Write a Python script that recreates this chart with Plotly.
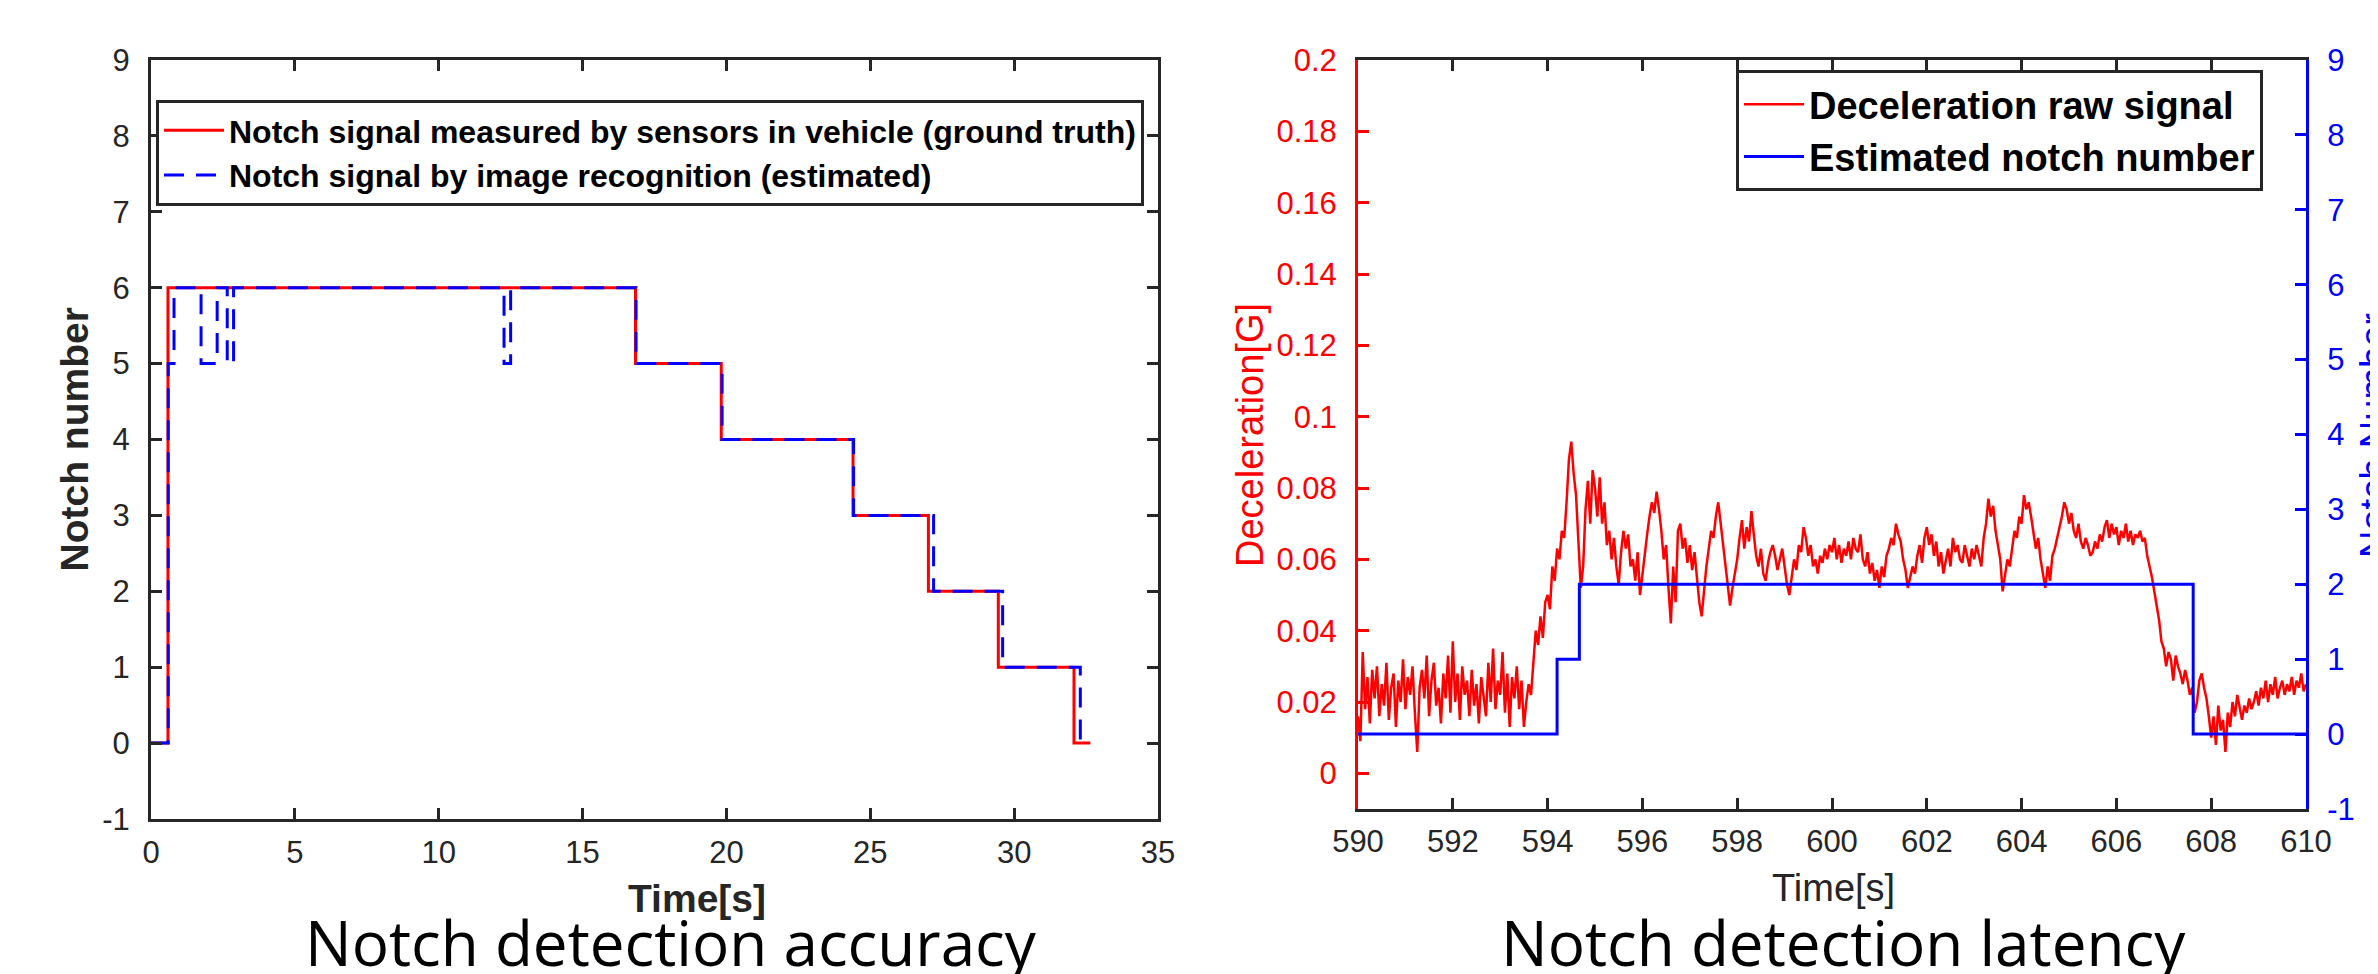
import plotly.graph_objects as go

W, H = 2378, 974

# ---------------- Left panel data: notch detection accuracy ----------------
gt_time = [0, 0.59, 16.84, 19.82, 24.40, 27.02, 29.45, 32.08, 32.65]
gt_notch = [0, 6, 5, 4, 3, 2, 1, 0, 0]
est_time = [0, 0.60, 0.80, 1.74, 2.30, 2.65, 2.87, 12.27, 12.50, 16.86, 19.85, 24.42, 27.20, 29.60, 32.30]
est_notch = [0, 5, 6, 5, 6, 5, 6, 5, 6, 5, 4, 3, 2, 1, 0]

left_x_ticks = [0, 5, 10, 15, 20, 25, 30, 35]
left_y_ticks = [-1, 0, 1, 2, 3, 4, 5, 6, 7, 8, 9]
left_y_text = ["-1", "0", "1", "2", "3", "4", "5", "6", "7", "8", "9"]

# ---------------- Right panel data: notch detection latency ----------------
dec_t0 = 590.0
dec_dt = 0.05
dec_values = [
    # 590
    0.016, 0.009, 0.034, 0.018, 0.027, 0.014, 0.029, 0.021, 0.030, 0.016,
    0.025, 0.019, 0.031, 0.015, 0.024, 0.028, 0.013, 0.026, 0.020, 0.032,
    # 591
    0.018, 0.027, 0.022, 0.030, 0.017, 0.006, 0.024, 0.029, 0.021, 0.033,
    0.016, 0.026, 0.031, 0.019, 0.024, 0.014, 0.028, 0.021, 0.033, 0.017,
    # 592
    0.037, 0.020, 0.028, 0.015, 0.030, 0.022, 0.026, 0.016, 0.029, 0.019,
    0.025, 0.014, 0.027, 0.021, 0.016, 0.031, 0.020, 0.035, 0.018, 0.026,
    # 593
    0.022, 0.034, 0.017, 0.028, 0.013, 0.027, 0.021, 0.030, 0.018, 0.026,
    0.013, 0.020, 0.025, 0.022, 0.030, 0.040, 0.036, 0.044, 0.038, 0.048,
    # 594
    0.050, 0.046, 0.058, 0.054, 0.063, 0.060, 0.068, 0.066, 0.076, 0.088,
    0.093, 0.084, 0.078, 0.066, 0.052, 0.058, 0.074, 0.082, 0.070, 0.085,
    # 595
    0.080, 0.072, 0.083, 0.070, 0.076, 0.064, 0.068, 0.060, 0.066, 0.058,
    0.053, 0.062, 0.068, 0.063, 0.067, 0.058, 0.060, 0.054, 0.062, 0.050,
    # 596
    0.056, 0.062, 0.067, 0.072, 0.076, 0.073, 0.079, 0.074, 0.068, 0.060,
    0.064, 0.052, 0.042, 0.058, 0.048, 0.068, 0.070, 0.063, 0.066, 0.059,
    # 597
    0.064, 0.057, 0.062, 0.055, 0.048, 0.044, 0.052, 0.058, 0.063, 0.068,
    0.066, 0.072, 0.076, 0.070, 0.064, 0.059, 0.053, 0.047, 0.052, 0.056,
    # 598
    0.060, 0.066, 0.071, 0.063, 0.069, 0.065, 0.0735, 0.067, 0.061, 0.058,
    0.063, 0.056, 0.054, 0.059, 0.062, 0.064, 0.061, 0.057, 0.060, 0.063,
    # 599
    0.058, 0.053, 0.050, 0.055, 0.060, 0.057, 0.064, 0.062, 0.069, 0.066,
    0.061, 0.064, 0.058, 0.060, 0.056, 0.061, 0.059, 0.063, 0.060, 0.064,
    # 600
    0.062, 0.066, 0.060, 0.064, 0.059, 0.063, 0.061, 0.065, 0.060, 0.066,
    0.063, 0.062, 0.067, 0.060, 0.058, 0.062, 0.056, 0.059, 0.054, 0.057,
    # 601
    0.052, 0.058, 0.055, 0.061, 0.063, 0.066, 0.064, 0.070, 0.067, 0.065,
    0.060, 0.057, 0.052, 0.055, 0.058, 0.056, 0.061, 0.064, 0.059, 0.066,
    # 602
    0.069, 0.064, 0.067, 0.061, 0.065, 0.058, 0.062, 0.056, 0.060, 0.063,
    0.058, 0.066, 0.062, 0.064, 0.060, 0.059, 0.064, 0.061, 0.058, 0.063,
    # 603
    0.060, 0.064, 0.061, 0.058, 0.066, 0.070, 0.077, 0.072, 0.075, 0.068,
    0.064, 0.060, 0.051, 0.056, 0.060, 0.058, 0.063, 0.068, 0.066, 0.072,
    # 604
    0.070, 0.078, 0.074, 0.076, 0.072, 0.068, 0.063, 0.066, 0.060, 0.056,
    0.052, 0.058, 0.054, 0.061, 0.063, 0.066, 0.069, 0.072, 0.076, 0.074,
    # 605
    0.070, 0.073, 0.068, 0.066, 0.070, 0.065, 0.063, 0.066, 0.064, 0.061,
    0.062, 0.065, 0.063, 0.067, 0.065, 0.069, 0.071, 0.066, 0.070, 0.067,
    # 606
    0.069, 0.064, 0.068, 0.066, 0.070, 0.065, 0.068, 0.064, 0.067, 0.066,
    0.068, 0.065, 0.066, 0.061, 0.058, 0.055, 0.051, 0.047, 0.043, 0.037,
    # 607
    0.035, 0.030, 0.034, 0.032, 0.026, 0.033, 0.030, 0.028, 0.025, 0.029,
    0.026, 0.022, 0.024, 0.017, 0.020, 0.026, 0.028, 0.024, 0.021, 0.016,
    # 608
    0.010, 0.016, 0.008, 0.019, 0.012, 0.015, 0.006, 0.017, 0.013, 0.020,
    0.016, 0.022, 0.018, 0.015, 0.019, 0.017, 0.021, 0.018, 0.020, 0.023,
    # 609
    0.019, 0.024, 0.021, 0.026, 0.020, 0.025, 0.022, 0.027, 0.021, 0.024,
    0.026, 0.022, 0.025, 0.023, 0.027, 0.022, 0.026, 0.024, 0.028, 0.023,
    # 610
    0.025,
]
dec_time = [round(dec_t0 + i * dec_dt, 3) for i in range(len(dec_values))]

notch_time = [590.0, 594.20, 594.67, 607.62, 610.0]
notch_level = [0, 1, 2, 0, 0]

right_x_ticks = [590, 592, 594, 596, 598, 600, 602, 604, 606, 608, 610]
dec_ticks = [0, 0.02, 0.04, 0.06, 0.08, 0.1, 0.12, 0.14, 0.16, 0.18, 0.2]
dec_tick_text = ["0", "0.02", "0.04", "0.06", "0.08", "0.1", "0.12", "0.14", "0.16", "0.18", "0.2"]
notch_ticks = [-1, 0, 1, 2, 3, 4, 5, 6, 7, 8, 9]
notch_tick_text = ["-1", "0", "1", "2", "3", "4", "5", "6", "7", "8", "9"]

# ---------------- styling helpers ----------------
AX = "#262626"
RED = "#ff0000"
BLUE = "#0000ff"
FONT = "Liberation Sans, Arial, sans-serif"
TICK_FONT = dict(family=FONT, size=31, color=AX)


def px_x(p):
    return p / W


def px_y(p):
    return 1 - p / H


fig = go.Figure()

fig.add_trace(go.Scatter(
    x=gt_time, y=gt_notch, mode="lines", line=dict(color=RED, width=3, shape="hv"),
    name="Notch signal measured by sensors in vehicle (ground truth)",
    xaxis="x", yaxis="y", legend="legend"))
fig.add_trace(go.Scatter(
    x=est_time, y=est_notch, mode="lines", line=dict(color=BLUE, width=3, shape="hv", dash="20px,12px"),
    name="Notch signal by image recognition (estimated)",
    xaxis="x", yaxis="y", legend="legend"))

fig.add_trace(go.Scatter(
    x=dec_time, y=dec_values, mode="lines", line=dict(color=RED, width=2.5),
    name="Deceleration raw signal", xaxis="x2", yaxis="y2", legend="legend2"))
fig.add_trace(go.Scatter(
    x=notch_time, y=notch_level, mode="lines", line=dict(color=BLUE, width=3, shape="hv"),
    name="Estimated notch number", xaxis="x2", yaxis="y3", legend="legend2"))

L_X0, L_X1 = 143, 1150
L_Y0, L_Y1 = 52, 811
R_X0, R_X1 = 1350, 2298
R_Y0, R_Y1 = 52, 801

common = dict(showgrid=False, zeroline=False, showline=True, linewidth=3,
              ticks="inside", ticklen=11, tickwidth=3, automargin=False)

fig.update_layout(
    width=W, height=H,
    margin=dict(l=0, r=0, t=0, b=0, autoexpand=False),
    paper_bgcolor="white", plot_bgcolor="white",
    showlegend=True,
    xaxis=dict(domain=[px_x(L_X0), px_x(L_X1)], range=[0, 35], tickvals=left_x_ticks,
               linecolor=AX, tickcolor=AX, tickfont=TICK_FONT, mirror="ticks",
               anchor="y", ticklabelstandoff=4, **common),
    yaxis=dict(domain=[px_y(L_Y1), px_y(L_Y0)], range=[-1, 9], tickvals=left_y_ticks,
               ticktext=left_y_text,
               linecolor=AX, tickcolor=AX, tickfont=TICK_FONT, mirror="ticks",
               anchor="x", ticklabelstandoff=12, **common),
    xaxis2=dict(domain=[px_x(R_X0), px_x(R_X1)], range=[590, 610], tickvals=right_x_ticks,
                linecolor=AX, tickcolor=AX, tickfont=TICK_FONT, mirror="ticks",
                anchor="y2", ticklabelstandoff=3, **common),
    yaxis2=dict(domain=[px_y(R_Y1), px_y(R_Y0)], range=[-0.01, 0.2], tickvals=dec_ticks,
                ticktext=dec_tick_text, linecolor=RED, tickcolor=RED,
                tickfont=dict(TICK_FONT, color=RED), anchor="x2", ticklabelstandoff=12, **common),
    yaxis3=dict(domain=[px_y(R_Y1), px_y(R_Y0)], range=[-1, 9], tickvals=notch_ticks,
                ticktext=notch_tick_text,
                linecolor=BLUE, tickcolor=BLUE, tickfont=dict(TICK_FONT, color=BLUE),
                anchor="x2", overlaying="y2", side="right", ticklabelstandoff=12, **common),
    legend=dict(x=px_x(148), y=px_y(92), xanchor="left", yanchor="top",
                bgcolor="white", bordercolor=AX, borderwidth=3, itemwidth=60,
                font=dict(family=FONT, size=32, color="black", weight="bold"),
                tracegroupgap=0),
    legend2=dict(x=px_x(1728), y=px_y(62), xanchor="left", yanchor="top",
                 bgcolor="white", bordercolor=AX, borderwidth=3, itemwidth=60,
                 font=dict(family=FONT, size=38, color="black", weight="bold"),
                 tracegroupgap=0),
)

ann = []
# axis titles
ann.append(dict(text="<b>Notch number</b>", x=px_x(66), y=px_y((L_Y0 + L_Y1) / 2), xref="paper", yref="paper",
                showarrow=False, textangle=-90, xanchor="center", yanchor="middle",
                font=dict(family=FONT, size=39, color=AX)))
ann.append(dict(text="<b>Time[s]</b>", x=px_x(689), y=px_y(890), xref="paper", yref="paper",
                showarrow=False, xanchor="center", yanchor="middle",
                font=dict(family=FONT, size=39, color=AX)))
ann.append(dict(text="Time[s]", x=px_x(1825), y=px_y(880), xref="paper", yref="paper",
                showarrow=False, xanchor="center", yanchor="middle",
                font=dict(family=FONT, size=38, color=AX)))
ann.append(dict(text="Deceleration[G]", x=px_x(1242), y=px_y(427), xref="paper", yref="paper",
                showarrow=False, textangle=-90, xanchor="center", yanchor="middle",
                font=dict(family=FONT, size=38, color=RED)))
ann.append(dict(text="Notch Number", x=px_x(2366), y=px_y(428), xref="paper", yref="paper",
                showarrow=False, textangle=-90, xanchor="center", yanchor="middle",
                font=dict(family=FONT, size=38, color=BLUE)))
# panel captions
ann.append(dict(text="Notch detection accuracy", x=px_x(663), y=px_y(934), xref="paper", yref="paper",
                showarrow=False, xanchor="center", yanchor="middle",
                font=dict(family="Open Sans, sans-serif", size=62, color="black")))
ann.append(dict(text="Notch detection latency", x=px_x(1835), y=px_y(934), xref="paper", yref="paper",
                showarrow=False, xanchor="center", yanchor="middle",
                font=dict(family="Open Sans, sans-serif", size=62, color="black")))
fig.update_layout(annotations=ann)

fig.write_html("out.html")
